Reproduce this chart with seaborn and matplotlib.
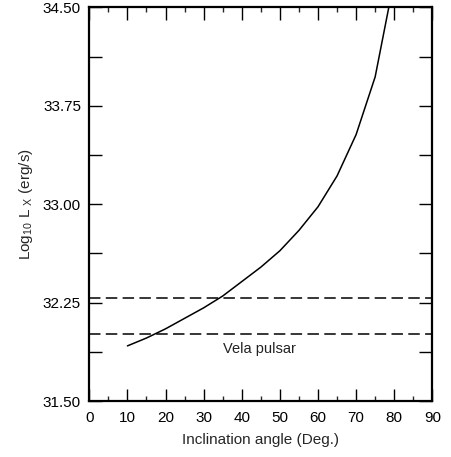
import numpy as np
import pandas as pd
import matplotlib
matplotlib.use("Agg")
import matplotlib.pyplot as plt
import seaborn as sns
from matplotlib.ticker import MultipleLocator, FuncFormatter

# curve (inclination angle vs log10 Lx)
angle = [10, 15, 20, 25, 30, 35, 40, 45, 50, 55, 60, 65, 70, 75, 80]
log_lx = [31.92, 31.98, 32.05, 32.13, 32.21, 32.30, 32.41, 32.52, 32.645,
          32.80, 32.98, 33.215, 33.53, 33.97, 34.71]

# Vela pulsar band
vela_levels = [32.013, 32.285]
vela_label = "Vela pulsar"

sns.set_theme(style="ticks")
plt.rcParams["font.family"] = ["Liberation Sans", "DejaVu Sans"]
plt.rcParams["mathtext.fontset"] = "custom"
plt.rcParams["mathtext.rm"] = "Liberation Sans"
plt.rcParams["mathtext.it"] = "Liberation Sans"

df = pd.DataFrame({"angle": angle, "log_lx": log_lx})

fig = plt.figure(figsize=(4.51, 4.57), dpi=100)
ax = fig.add_axes([0.198, 0.1225, 0.7606, 0.8615])

sns.lineplot(data=df, x="angle", y="log_lx", ax=ax, color="black", lw=1.1)

for lev in vela_levels:
    ax.axhline(lev, color="black", lw=1.1, dashes=(7.5, 3.5))

ax.text(44.7, 31.90, vela_label, ha="center", va="center", fontsize=10.5, color="#222222")

ax.set_xlim(0, 90)
ax.set_ylim(31.5, 34.5)

ax.xaxis.set_major_locator(MultipleLocator(10))
ax.xaxis.set_minor_locator(MultipleLocator(5))
ax.yaxis.set_major_locator(MultipleLocator(0.375))
ax.yaxis.set_major_formatter(FuncFormatter(
    lambda v, p: f"{v:.2f}" if abs((v - 31.5) / 0.75 - round((v - 31.5) / 0.75)) < 1e-6 else ""))

ax.tick_params(axis="x", which="major", direction="in", length=9, width=1,
               top=True, bottom=True, labelsize=11, pad=7, colors="black")
ax.tick_params(axis="x", which="minor", direction="in", length=3.5, width=1,
               top=True, bottom=True)
ax.tick_params(axis="y", which="major", direction="in", length=9.5, width=1,
               left=True, right=True, labelsize=11, pad=6, colors="black")
ax.tick_params(axis="y", which="minor", left=False, right=False)

for sp in ax.spines.values():
    sp.set_visible(True)
    sp.set_linewidth(1.6)
    sp.set_color("black")

ax.set_xlabel("Inclination angle (Deg.)", fontsize=11, labelpad=6)
ax.set_ylabel(r"Log$_{\mathregular{10}}$ L $_{\mathregular{X}}$ (erg/s)", fontsize=11, labelpad=6)

fig.savefig("out.png", dpi=100)
